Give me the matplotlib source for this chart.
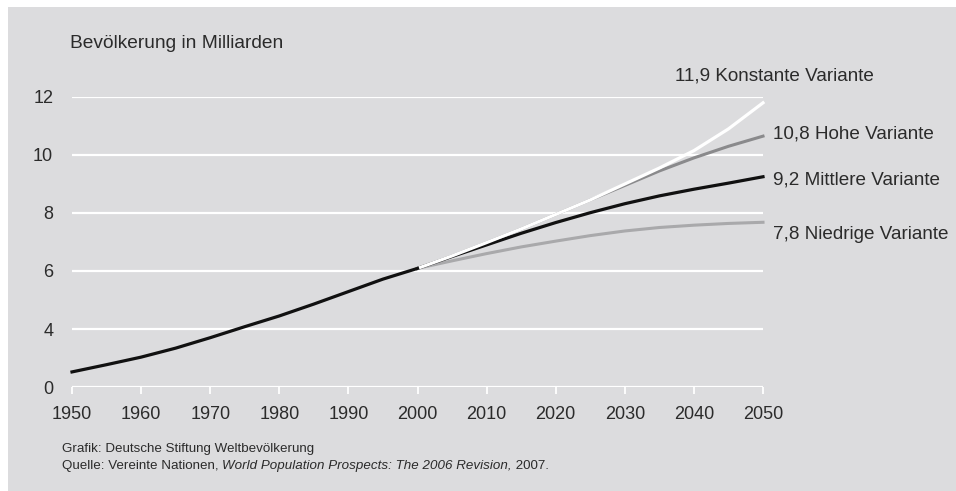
import matplotlib.pyplot as plt
import numpy as np

# Weltbevölkerung in Milliarden
years_hist = [1950, 1955, 1960, 1965, 1970, 1975, 1980, 1985, 1990, 1995, 2000]
pop_hist = [2.52, 2.77, 3.03, 3.34, 3.70, 4.08, 4.45, 4.86, 5.29, 5.72, 6.09]

years_proj = [2000, 2005, 2010, 2015, 2020, 2025, 2030, 2035, 2040, 2045, 2050]
konstant = [6.09, 6.52, 6.98, 7.45, 7.95, 8.45, 9.00, 9.55, 10.15, 10.90, 11.80]
hoch = [6.09, 6.52, 6.98, 7.45, 7.95, 8.45, 8.95, 9.45, 9.90, 10.30, 10.65]
mittel = [6.09, 6.50, 6.90, 7.30, 7.67, 8.01, 8.32, 8.59, 8.82, 9.03, 9.25]
niedrig = [6.09, 6.35, 6.60, 6.83, 7.03, 7.22, 7.38, 7.50, 7.58, 7.64, 7.68]

x_ticks = [1950, 1960, 1970, 1980, 1990, 2000, 2010, 2020, 2030, 2040, 2050]
y_ticks = [2, 4, 6, 8, 10, 12]
y_labels = ["0", "4", "6", "8", "10", "12"]

labels = ["11,9 Konstante Variante", "10,8 Hohe Variante",
          "9,2 Mittlere Variante", "7,8 Niedrige Variante"]

bg = "#dcdcde"
txt = "#2b2b2b"
plt.rcParams['font.family'] = ["Liberation Sans", "DejaVu Sans"]

fig = plt.figure(figsize=(9.56, 4.91), dpi=100)
fig.patch.set_facecolor("white")
fig.patches.append(plt.Rectangle((8 / 956, 0), 1, 1 - 7 / 491, transform=fig.transFigure,
                                 facecolor=bg, edgecolor="none", zorder=-10))

ax = fig.add_axes([72 / 956, 1 - 387 / 491, (763 - 72) / 956, (387 - 97) / 491])
ax.set_facecolor("none")
ax.set_xlim(1950, 2050)
ax.set_ylim(2, 12)

for s in ax.spines.values():
    s.set_visible(False)

for v in y_ticks:
    ax.axhline(v, color="white", lw=1.6, zorder=1)

ax.set_xticks(x_ticks)
ax.set_xticklabels([str(x) for x in x_ticks])
ax.set_yticks(y_ticks)
ax.set_yticklabels(y_labels)
ax.tick_params(axis="x", colors="white", length=5, width=1.3, pad=9,
               labelcolor=txt, labelsize=13)
ax.tick_params(axis="y", length=0, pad=13.5, labelcolor=txt, labelsize=13)

ax.plot(years_proj, niedrig, color="#a9a9ab", lw=2.2, zorder=3, clip_on=False)
ax.plot(years_proj, mittel, color="#111111", lw=2.3, zorder=4, clip_on=False)
ax.plot(years_proj, hoch, color="#8a8a8c", lw=2.2, zorder=3, clip_on=False)
ax.plot(years_proj, konstant, color="white", lw=2.3, zorder=5, clip_on=False)
ax.plot(years_hist, pop_hist, color="#111111", lw=2.3, zorder=6, clip_on=False)

ends = [konstant[-1], hoch[-1], mittel[-1], niedrig[-1]]
offsets = [(-88, 27), (10, 2), (10, -3), (10, -12)]
for lab, yv, off in zip(labels, ends, offsets):
    ax.annotate(lab, xy=(2050, yv), xytext=off, textcoords="offset pixels",
                ha="left", va="center", color=txt, fontsize=13.6, annotation_clip=False)

fig.text(70 / 956, 1 - 43 / 491, "Bevölkerung in Milliarden", color=txt,
         fontsize=13.8, va="center", ha="left")

fig.text(62 / 956, 1 - 449 / 491, "Grafik: Deutsche Stiftung Weltbevölkerung",
         color=txt, fontsize=9.6, va="center", ha="left")
t1 = fig.text(62 / 956, 1 - 466 / 491, "Quelle: Vereinte Nationen, ",
              color=txt, fontsize=9.6, va="center", ha="left")
t2 = ax.annotate("World Population Prospects: The 2006 Revision,", xy=(1, 0.5),
                 xycoords=t1, va="center", ha="left", color=txt, fontsize=9.6,
                 style="italic", annotation_clip=False)
ax.annotate(" 2007.", xy=(1, 0.5), xycoords=t2, va="center", ha="left",
            color=txt, fontsize=9.6, annotation_clip=False)

fig.savefig("out.png", dpi=100, facecolor=fig.get_facecolor())
